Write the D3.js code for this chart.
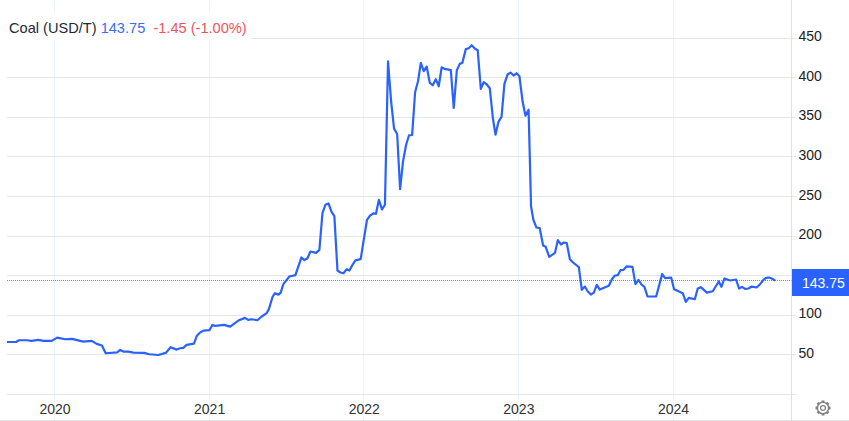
<!DOCTYPE html>
<html>
<head>
<meta charset="utf-8">
<script src="https://cdn.jsdelivr.net/npm/d3@7"></script>
<style>
  html, body { margin: 0; padding: 0; background: #fff; }
  text { font-family: "Liberation Sans", Arial, sans-serif; }
</style>
</head>
<body>
<div id="chart"></div>
<script>
// time in decimal years
var times = [
  2019.693,2019.751,2019.770,2019.820,2019.852,2019.895,2019.928,2019.982,2020.018,2020.068,
  2020.113,2020.186,2020.240,2020.273,2020.307,2020.331,2020.406,2020.424,2020.445,2020.478,
  2020.510,2020.579,2020.613,2020.672,2020.719,2020.751,2020.790,2020.812,2020.833,2020.855,
  2020.902,2020.920,2020.941,2020.963,2021.002,2021.021,2021.038,2021.097,2021.136,2021.189,
  2021.232,2021.252,2021.276,2021.312,2021.340,2021.372,2021.387,2021.411,2021.426,2021.448,
  2021.463,2021.480,2021.519,2021.558,2021.597,2021.616,2021.636,2021.655,2021.692,2021.713,
  2021.733,2021.752,2021.772,2021.791,2021.810,2021.830,2021.849,2021.869,2021.890,2021.907,
  2021.927,2021.946,2021.980,2022.021,2022.040,2022.062,2022.079,2022.098,2022.118,2022.137,
  2022.157,2022.177,2022.196,2022.216,2022.235,2022.254,2022.274,2022.293,2022.313,2022.332,
  2022.351,2022.369,2022.388,2022.407,2022.427,2022.446,2022.466,2022.485,2022.504,2022.524,
  2022.563,2022.582,2022.602,2022.621,2022.638,2022.660,2022.679,2022.698,2022.718,2022.737,
  2022.757,2022.776,2022.796,2022.815,2022.835,2022.852,2022.871,2022.891,2022.910,2022.930,
  2022.949,2022.969,2022.988,2023.007,2023.027,2023.046,2023.066,2023.082,2023.097,2023.117,
  2023.138,2023.160,2023.177,2023.199,2023.237,2023.255,2023.275,2023.294,2023.313,2023.333,
  2023.354,2023.391,2023.410,2023.430,2023.449,2023.469,2023.488,2023.507,2023.527,2023.585,
  2023.605,2023.624,2023.643,2023.660,2023.680,2023.699,2023.738,2023.757,2023.777,2023.796,
  2023.815,2023.835,2023.891,2023.930,2023.949,2023.988,2024.007,2024.025,2024.063,2024.083,
  2024.102,2024.141,2024.160,2024.180,2024.219,2024.257,2024.296,2024.313,2024.333,2024.370,
  2024.408,2024.427,2024.447,2024.466,2024.488,2024.509,2024.541,2024.563,2024.585,2024.602,
  2024.620,2024.639,2024.661
];
var prices = [
  66.1,66.1,68.3,68.3,67.5,68.7,67.5,67.5,71.7,69.6,
  70,66.6,67.5,63.7,61.6,51.9,53.1,56.1,54,54,
  52.7,52.3,50.6,49.7,52.3,59.5,56.5,58.2,58.6,62.4,
  64.1,73.8,78,80.5,81,87.7,86.5,87.7,85.6,93.2,
  96.6,94,94.9,93.6,98.3,102.5,108,123.6,127.8,126,
  128.6,139.2,148.9,150.6,173,169.6,172,180.5,178.8,182.6,
  229,239.6,241.3,230.8,225.3,156.5,154,153,158.2,156.5,
  163.6,169.2,170.8,220.6,225.7,228.6,228.2,245.9,233.8,239.6,
  421,370.4,335.8,329,259.4,294.4,315.5,327.4,327.8,381.8,
  395.7,418.9,408.4,414.3,393.6,390.7,398.3,389.4,413.4,411.3,
  409.7,361.9,409.7,417.7,419,436.3,437.5,441.3,437,435,
  386,394.5,391.6,386.9,349.3,328.2,344.3,350.6,392.8,404.2,
  406.7,402.9,405.8,402,370.4,352.2,359.8,237.5,220.6,210.8,
  210,188,186.4,173.7,178.8,194.9,189.4,191.9,191.1,170.8,
  166.6,160.7,132,136.2,129.9,126.1,128.6,138.3,132.4,137.1,
  145.5,150.2,150.6,156.9,157.3,161.6,161.1,139.2,144.7,138.8,
  135.8,123.6,123.6,151.9,146.8,147.6,132.9,131.2,127.8,116.8,
  121.9,120.2,133.7,135.4,128.6,130.3,142.6,135.8,146.4,143.8,
  145.1,133.7,135.8,133.3,133.7,136.2,135,139.2,144.7,147.2,
  147.6,146.4,143.75
];
var yearTicks = [2020, 2021, 2022, 2023, 2024];
var gridTicks = [0, 50, 100, 150, 200, 250, 300, 350, 400, 450];
// 150 has no label, the last price tag covers it
var priceLabels = [50, 100, 200, 250, 300, 350, 400, 450];
var lastPrice = 143.75;
var titleParts = [
  {text: "Coal (USD/T) ", color: "#1f2933"},
  {text: "143.75 ", color: "#3a6df0"},
  {text: " -1.45 (-1.00%)", color: "#f2545b"}
];

var width = 849, height = 421;
var left = 7, right = 791.5, bottom = 394.3, axisBottom = 420;

var svg = d3.select("#chart")
  .append("svg")
    .attr("width", width)
    .attr("height", height)
    .style("display", "block");

// 2020 sits at 54.5px and 2024 at 673px
var x = d3.scaleLinear()
  .domain([2020, 2024])
  .range([54.5, 673]);

var y = d3.scaleLinear()
  .domain([0, 450])
  .range([bottom, 38.3]);

// vertical grid
svg.append("g")
  .selectAll("line")
  .data(yearTicks)
  .enter()
  .append("line")
    .attr("x1", function(d) { return Math.floor(x(d)) + 0.5; })
    .attr("x2", function(d) { return Math.floor(x(d)) + 0.5; })
    .attr("y1", 0)
    .attr("y2", axisBottom)
    .attr("stroke", "#eef3f8");

// horizontal grid, runs a little past the price axis
svg.append("g")
  .selectAll("line")
  .data(gridTicks)
  .enter()
  .append("line")
    .attr("x1", left)
    .attr("x2", right + 5)
    .attr("y1", function(d) { return Math.floor(y(d)) + 0.5; })
    .attr("y2", function(d) { return Math.floor(y(d)) + 0.5; })
    .attr("stroke", "#e6e6e6");

// frame
svg.append("line")
  .attr("x1", right).attr("x2", right)
  .attr("y1", 0).attr("y2", axisBottom)
  .attr("stroke", "#e0e0e0");
svg.append("line")
  .attr("x1", 0).attr("x2", width)
  .attr("y1", axisBottom + 0.5).attr("y2", axisBottom + 0.5)
  .attr("stroke", "#e6e6e6");

// last price guide
svg.append("line")
  .attr("x1", left).attr("x2", right)
  .attr("y1", Math.floor(y(lastPrice)) + 0.5).attr("y2", Math.floor(y(lastPrice)) + 0.5)
  .attr("stroke", "#5f86ee")
  .attr("stroke-width", 1)
  .attr("stroke-dasharray", "1,1");

// price line
var line = d3.line()
  .x(function(d, i) { return x(times[i]); })
  .y(function(d) { return y(d); });

svg.append("path")
  .datum(prices)
  .attr("fill", "none")
  .attr("stroke", "#2962ff")
  .attr("stroke-width", 2.2)
  .attr("stroke-linejoin", "round")
  .attr("d", line);

// axes
var xAxis = svg.append("g")
  .attr("transform", "translate(0," + 410 + ")")
  .call(d3.axisBottom(x).tickValues(yearTicks).tickSize(0).tickPadding(0).tickFormat(d3.format("d")));
xAxis.select(".domain").remove();
xAxis.selectAll("text")
  .attr("y", 4)
  .attr("dy", 0)
  .style("font-size", "14px")
  .style("fill", "#333")
  .attr("text-anchor", "middle");

var yAxis = svg.append("g")
  .attr("transform", "translate(" + right + ",0)")
  .call(d3.axisRight(y).tickValues(priceLabels).tickSize(0).tickPadding(7));
yAxis.select(".domain").remove();
yAxis.selectAll("text")
  .style("font-size", "14px")
  .style("fill", "#222")
  .attr("dy", "0.18em");

// last price tag
svg.append("rect")
  .attr("x", right + 0.5)
  .attr("y", 269)
  .attr("width", width - right)
  .attr("height", 27)
  .attr("fill", "#2962ff");
svg.append("text")
  .attr("x", 802)
  .attr("y", 288)
  .attr("fill", "#fff")
  .style("font-size", "14px")
  .text(d3.format(".2f")(lastPrice));

// header
svg.append("rect")
  .attr("x", left)
  .attr("y", 12)
  .attr("width", 244)
  .attr("height", 27)
  .attr("fill", "#fff");
var title = svg.append("text")
  .attr("x", 9)
  .attr("y", 33)
  .style("font-size", "14.6px")
  .attr("xml:space", "preserve")
  .style("white-space", "pre");
title.selectAll("tspan")
  .data(titleParts)
  .enter()
  .append("tspan")
    .attr("fill", function(d) { return d.color; })
    .text(function(d) { return d.text; });

// settings gear
var gear = svg.append("g")
  .attr("transform", "translate(823,408)");
gear.selectAll("line")
  .data(d3.range(8))
  .enter()
  .append("line")
    .attr("x1", 0).attr("y1", -5.5)
    .attr("x2", 0).attr("y2", -7.5)
    .attr("transform", function(d) { return "rotate(" + d * 45 + ")"; })
    .attr("stroke", "#808080")
    .attr("stroke-width", 3);
gear.append("circle")
  .attr("r", 5.6)
  .attr("fill", "#fff")
  .attr("stroke", "#808080")
  .attr("stroke-width", 1.4);
gear.append("circle")
  .attr("r", 2.4)
  .attr("fill", "#fff")
  .attr("stroke", "#808080")
  .attr("stroke-width", 1.2);
</script>
</body>
</html>
